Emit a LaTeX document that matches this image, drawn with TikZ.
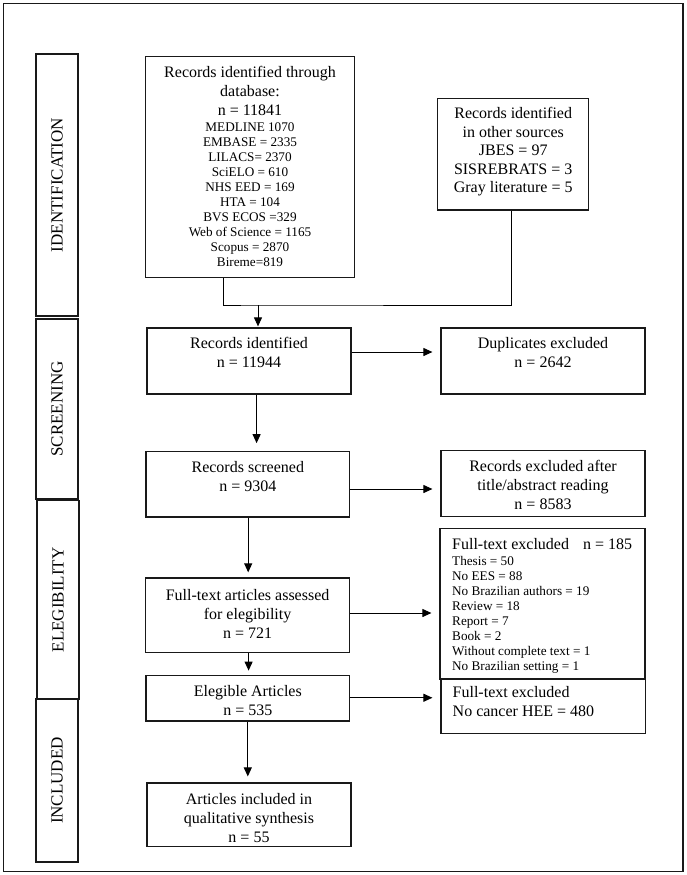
\documentclass[tikz,border=0pt]{standalone}
\usepackage{fontspec}
\setmainfont{Liberation Serif}
\usetikzlibrary{arrows.meta}
\newcommand{\smallsz}{\fontsize{13.2}{15}\selectfont}
\begin{document}
\begin{tikzpicture}[x=1pt,y=-1pt,
  box/.style={draw=black!90,line width=1.2pt,inner sep=0pt},
  big/.style={font=\fontsize{16}{19}\selectfont,align=center,inner sep=0pt},
  bigl/.style={font=\fontsize{16}{19}\selectfont,align=left,inner sep=0pt},
  side/.style={draw=black!90,line width=1.2pt,minimum width=42pt,inner sep=0pt},
  sidetxt/.style={font=\fontsize{17}{20}\selectfont,rotate=90,inner sep=0pt},
  conn/.style={line width=1pt},
  arr/.style={line width=1pt,-{Triangle[length=9pt,width=8pt]}}]
\useasboundingbox (0,0) rectangle (686,875);
% outer frame
\draw[line width=1.2pt,black!90] (3.5,3.5) rectangle (683,871.5);
% side boxes
\node[side,minimum height=262pt] (sid) at (57,185) {};
\node[sidetxt] (sidt) at (sid.center) {IDENTIFICATION};
\node[side,minimum height=180pt] (ssc) at (57,409) {};
\node[sidetxt] (ssct) at (ssc.center) {SCREENING};
\node[side,minimum height=198.3pt] (sel) at (58,599.85) {};
\node[sidetxt] (selt) at (sel.center) {ELEGIBILITY};
\node[side,minimum height=163pt] (sin) at (57,780.5) {};
\node[sidetxt] (sint) at (sin.center) {INCLUDED};
% main boxes
\node[box,minimum width=208.8pt,minimum height=221pt] (db) at (250,167.2) {};
\node[big] (dbt) at (250,166.7) {Records identified through\\database:\\n = 11841\\[-3pt]
  \smallsz MEDLINE 1070\\[-4pt] \smallsz EMBASE = 2335\\[-4pt] \smallsz LILACS= 2370\\[-4pt] \smallsz SciELO = 610\\[-4pt] \smallsz NHS EED = 169\\[-4pt] \smallsz HTA = 104\\[-4pt] \smallsz BVS ECOS =329\\[-4pt] \smallsz Web of Science = 1165\\[-4pt] \smallsz Scopus = 2870\\[-4pt] \smallsz Bireme=819};
\node[box,minimum width=151pt,minimum height=111.3pt] (oth) at (513.2,154.4) {};
\node[big,font=\fontsize{16}{18.5}\selectfont] (otht) at (513.2,152) {Records identified\\in other sources\\JBES = 97\\SISREBRATS = 3\\Gray literature = 5};
\node[box,minimum width=204pt,minimum height=66pt] (ri) at (249,361) {};
\node[big,anchor=north] (rit) at (249,337.5) {Records identified\\n = 11944};
\node[box,minimum width=204pt,minimum height=66pt] (dup) at (543,361) {};
\node[big,anchor=north] (dupt) at (543,337.5) {Duplicates excluded\\n = 2642};
\node[box,minimum width=203.6pt,minimum height=65.3pt] (rs) at (247.8,484.4) {};
\node[big,anchor=north] (rst) at (247.8,461.5) {Records screened\\n = 9304};
\node[box,minimum width=204pt,minimum height=66pt] (rex) at (543,483.7) {};
\node[big] (rext) at (543,485) {Records excluded after\\title/abstract reading\\n = 8583};
\node[box,minimum width=204pt,minimum height=74.7pt] (ft) at (247.6,615.3) {};
\node[big] (ftt) at (247.6,613.5) {Full-text articles assessed\\for elegibility\\n = 721};
\node[box,minimum width=205pt,minimum height=150.3pt] (ftex) at (542.5,603.85) {};
\node[bigl,anchor=north west] (ftext) at (452,538.5) {Full-text excluded\hspace{14pt}n = 185\\[-3pt]
  \smallsz Thesis = 50\\[-4pt] \smallsz No EES = 88\\[-4pt] \smallsz No Brazilian authors = 19\\[-4pt] \smallsz Review = 18\\[-4pt] \smallsz Report = 7\\[-4pt] \smallsz Book = 2\\[-4pt] \smallsz Without complete text = 1\\[-4pt] \smallsz No Brazilian setting = 1};
\node[box,minimum width=203.6pt,minimum height=45.3pt] (ea) at (247.8,698.35) {};
\node[big] (eat) at (247.8,701) {Elegible Articles\\n = 535};
\node[box,minimum width=204.6pt,minimum height=54.7pt] (ftex2) at (543.3,706.35) {};
\node[bigl,anchor=north west] (ftex2t) at (452.5,686.5) {Full-text excluded\\No cancer HEE = 480};
\node[box,minimum width=204pt,minimum height=63.7pt] (ai) at (249,814.9) {};
\node[big] (ait) at (249,818.5) {Articles included in\\qualitative synthesis\\n = 55};
% connectors
\coordinate (j1) at ([xshift=-26.3pt]db.south);
\coordinate (o1) at ([xshift=-2.2pt]oth.south);
\coordinate (m) at (258,305);
\draw[conn] (j1) |- (m) -| (o1);
\draw[arr,shorten >=1pt] (m) -- (m |- ri.north);
\coordinate (a1) at ([yshift=9pt]ri.east);
\draw[arr,shorten >=8pt] (a1) -- (a1 -| dup.west);
\coordinate (a2) at ([xshift=7.6pt]ri.south);
\draw[arr,shorten >=8pt] (a2) -- (a2 |- rs.north);
\coordinate (a3) at ([yshift=-4.6pt]rs.east);
\draw[arr,shorten >=8pt] (a3) -- (a3 -| rex.west);
\coordinate (a4) at ([xshift=0.4pt]rs.south);
\draw[arr,shorten >=5pt] (a4) -- (a4 |- ft.north);
\coordinate (a5) at ([yshift=2.3pt]ft.east);
\draw[arr,shorten >=8pt] (a5) -- (a5 -| ftex.west);
\coordinate (a6) at ([xshift=1pt]ft.south);
\draw[arr,shorten >=4.5pt] (a6) -- (a6 |- ea.north);
\coordinate (a7) at ([yshift=0.6pt]ea.east);
\draw[arr,shorten >=8pt] (a7) -- (a7 -| ftex2.west);
\draw[arr,shorten >=6pt] (ea.south) -- (ea.south |- ai.north);
\end{tikzpicture}
\end{document}
